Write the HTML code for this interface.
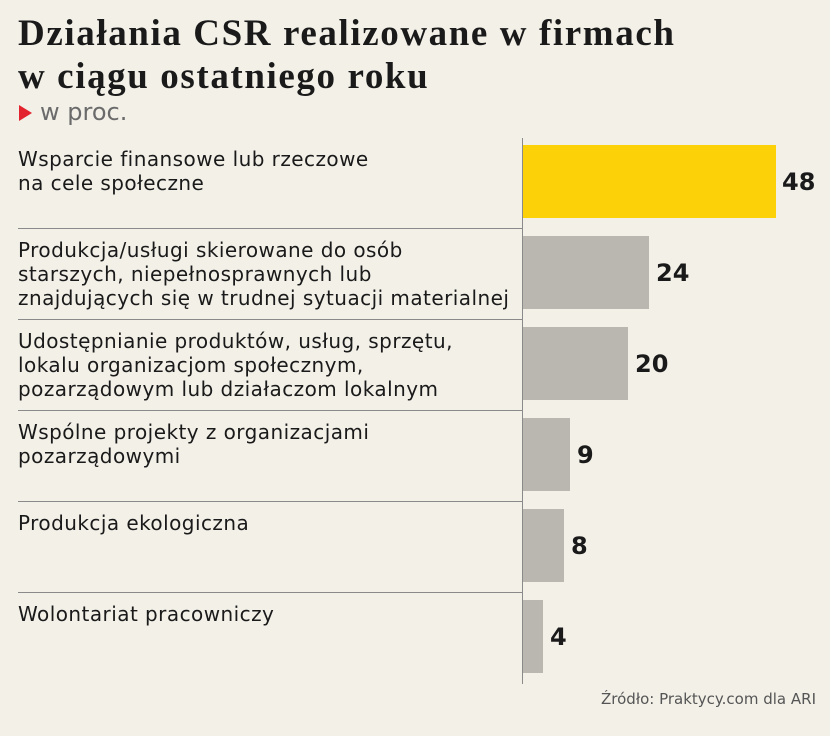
<!DOCTYPE html>
<html><head><meta charset="utf-8"><style>
body{margin:0;background:#f3f0e8;}
#c{position:relative;width:830px;height:736px;background:#f3f0e8;overflow:hidden;font-family:"Liberation Sans",sans-serif;color:#1a1a1a;}
.t{position:absolute;left:18px;font-family:"Liberation Serif",serif;font-weight:bold;font-size:37px;line-height:36px;letter-spacing:1.6px;color:#1a1a1a;white-space:nowrap;}
.lab{position:absolute;left:18px;font-family:"DejaVu Sans",sans-serif;font-size:20px;line-height:24px;letter-spacing:0.45px;color:#1a1a1a;white-space:nowrap;}
.sep{position:absolute;left:18px;width:504px;height:1px;background:#8a8a8a;}
.bar{position:absolute;left:523px;height:73px;background:#bab6b0;}
.v{position:absolute;font-family:"DejaVu Sans",sans-serif;font-weight:bold;font-size:24px;line-height:25px;color:#1a1a1a;}
</style></head><body><div id="c">
<div class="t" style="top:16px">Działania CSR realizowane w firmach</div>
<div class="t" style="top:59px">w ciągu ostatniego roku</div>
<div style="position:absolute;left:19px;top:105px;width:0;height:0;border-top:8px solid transparent;border-bottom:8px solid transparent;border-left:13px solid #e3232d"></div>
<div style="position:absolute;left:40px;top:98px;font-family:'DejaVu Sans',sans-serif;font-size:24px;line-height:28px;color:#6b6b6b">w proc.</div>
<div style="position:absolute;left:522px;top:138px;width:1px;height:546px;background:#8a8a8a"></div>

<div class="lab" style="top:147px">Wsparcie finansowe lub rzeczowe<br>na cele społeczne</div>
<div class="bar" style="top:145px;width:253px;background:#fcd107"></div>
<div class="v" style="left:782px;top:170px">48</div>
<div class="sep" style="top:228px"></div>

<div class="lab" style="top:238px">Produkcja/usługi skierowane do osób<br>starszych, niepełnosprawnych lub<br>znajdujących się w trudnej sytuacji materialnej</div>
<div class="bar" style="top:236px;width:126px"></div>
<div class="v" style="left:656px;top:261px">24</div>
<div class="sep" style="top:319px"></div>

<div class="lab" style="top:329px">Udostępnianie produktów, usług, sprzętu,<br>lokalu organizacjom społecznym,<br>pozarządowym lub działaczom lokalnym</div>
<div class="bar" style="top:327px;width:105px"></div>
<div class="v" style="left:635px;top:352px">20</div>
<div class="sep" style="top:410px"></div>

<div class="lab" style="top:420px">Wspólne projekty z organizacjami<br>pozarządowymi</div>
<div class="bar" style="top:418px;width:47px"></div>
<div class="v" style="left:577px;top:443px">9</div>
<div class="sep" style="top:501px"></div>

<div class="lab" style="top:511px">Produkcja ekologiczna</div>
<div class="bar" style="top:509px;width:41px"></div>
<div class="v" style="left:571px;top:534px">8</div>
<div class="sep" style="top:592px"></div>

<div class="lab" style="top:602px">Wolontariat pracowniczy</div>
<div class="bar" style="top:600px;width:20px"></div>
<div class="v" style="left:550px;top:625px">4</div>

<div style="position:absolute;right:14px;top:689px;font-family:'DejaVu Sans',sans-serif;font-size:15px;line-height:20px;color:#555">Źródło: Praktycy.com dla ARI</div>
</div></body></html>
